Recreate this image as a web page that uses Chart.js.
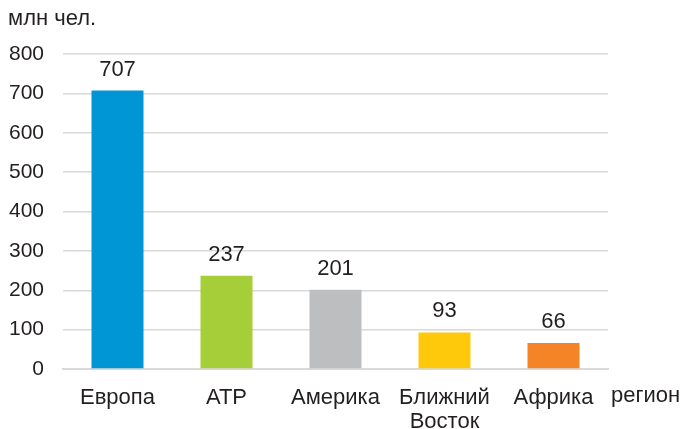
<!DOCTYPE html>
<html><head><meta charset="utf-8">
<script src="https://cdn.jsdelivr.net/npm/chart.js@4/dist/chart.umd.min.js"></script>
<style>html,body{margin:0;padding:0;background:#fff}#wrap{width:684px;height:429px}</style>
</head><body><div id="wrap"><canvas id="c" width="684" height="429"></canvas></div>
<script>
const categories = [["Европа"], ["АТР"], ["Америка"], ["Ближний", "Восток"], ["Африка"]];
const values = [707, 237, 201, 93, 66];
const barColors = ["#0096D6", "#A6CE39", "#BCBEC0", "#FFC90B", "#F58426"];
const yTicks = [0, 100, 200, 300, 400, 500, 600, 700, 800];
const yTitle = "млн чел.";
const xTitle = "регион";

const FONT = "'Liberation Sans', Arial, sans-serif";
const TXT = "#231F20";

const extras = {
  id: 'extras',
  afterDatasetsDraw(chart) {
    const ctx = chart.ctx;
    const meta = chart.getDatasetMeta(0);
    ctx.save();
    ctx.fillStyle = TXT;
    ctx.font = "22px " + FONT;
    ctx.textAlign = 'center';
    ctx.textBaseline = 'bottom';
    meta.data.forEach((bar, i) => {
      ctx.fillText(String(values[i]), bar.x, bar.y - 10);
    });
    ctx.font = "22px " + FONT;
    ctx.textAlign = 'left';
    ctx.textBaseline = 'middle';
    ctx.fillText(yTitle, 8, 19);
    ctx.fillText(xTitle, 611, 396);
    ctx.restore();
  }
};

new Chart(document.getElementById('c'), {
  type: 'bar',
  data: {
    labels: categories,
    datasets: [{ data: values, backgroundColor: barColors, categoryPercentage: 1, barPercentage: 0.477 }]
  },
  options: {
    responsive: false,
    animation: false,
    devicePixelRatio: 1,
    layout: { padding: { left: 0, right: 76, top: 54, bottom: 0 } },
    plugins: { legend: { display: false }, tooltip: { enabled: false } },
    scales: {
      x: {
        grid: { display: false },
        border: { display: true, color: '#D9D9D9', width: 2 },
        ticks: { color: TXT, font: { size: 22, family: FONT, lineHeight: 1.1 }, padding: 9, maxRotation: 0, autoSkip: false },
        afterFit(s) { s.height = 60; }
      },
      y: {
        min: 0, max: 800,
        afterBuildTicks(s) { s.ticks = yTicks.map(v => ({ value: v })); },
        grid: { color: '#D9D9D9', lineWidth: 1.5, drawTicks: false },
        border: { display: false },
        ticks: { color: TXT, font: { size: 21, family: FONT }, padding: 19 },
        afterFit(s) { s.width = 63; }
      }
    }
  },
  plugins: [extras]
});
</script></body></html>
